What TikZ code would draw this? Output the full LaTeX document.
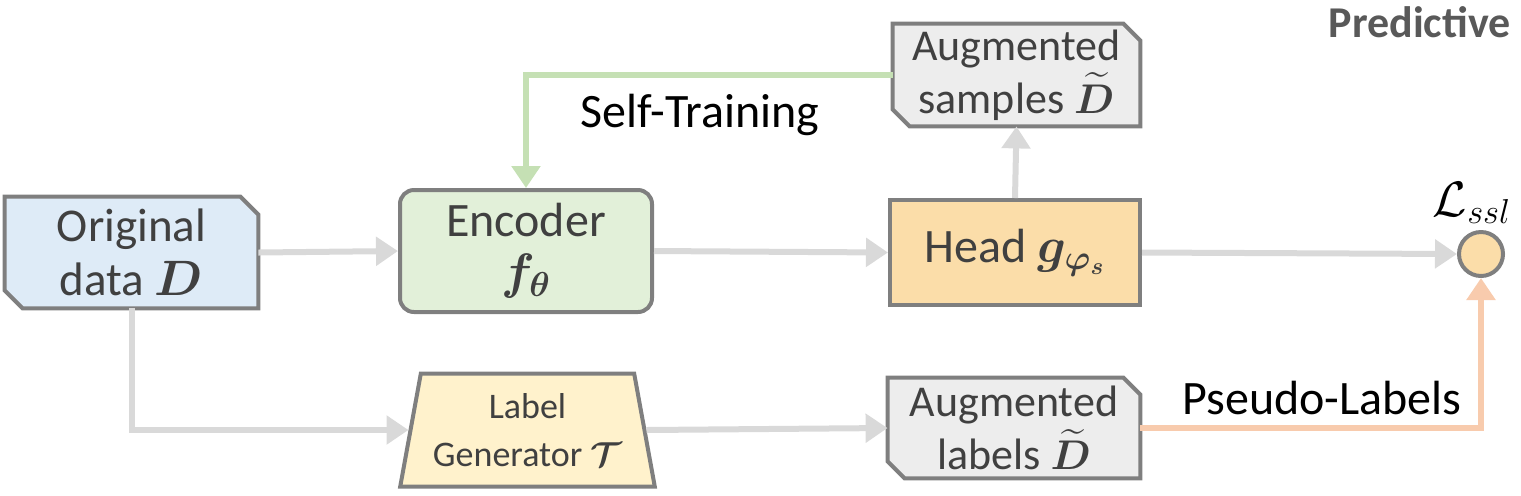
\documentclass[tikz,border=0pt]{standalone}
\usepackage{amsmath,bm}
\usepackage{fontspec}
\setmainfont{Carlito}
\usetikzlibrary{arrows.meta,shapes.geometric,backgrounds}
\definecolor{txtgray}{HTML}{404040}
\definecolor{bordergray}{HTML}{7F7F7F}
\definecolor{arrgray}{HTML}{D9D9D9}
\definecolor{origfill}{HTML}{DEEBF7}
\definecolor{encfill}{HTML}{E2F0D9}
\definecolor{headfill}{HTML}{FBDDA9}
\definecolor{lgfill}{HTML}{FFF2CC}
\definecolor{augfill}{HTML}{EDEDED}
\definecolor{greenline}{HTML}{C5E0B4}
\definecolor{orangeline}{HTML}{F8CBAD}
\definecolor{predgray}{HTML}{595959}
\tikzset{
  txt/.style={text=txtgray, font=\fontsize{23.5}{27}\selectfont, align=center, inner sep=0pt},
  boxline/.style={draw=bordergray, line width=2pt},
  arr/.style={draw=arrgray, line width=3pt, -{Triangle[length=11pt,width=14pt]}},
  lbl/.style={font=\fontsize{24}{29}\selectfont, text=black, inner sep=0pt},
}
\newcommand{\chamferbox}[3]{%
  \draw[boxline, fill=#3] (#1.north west) -- ([xshift=-#2]#1.north east) -- ([yshift=-#2]#1.north east)
    -- (#1.south east) -- ([xshift=#2]#1.south west) -- ([yshift=#2]#1.south west) -- cycle;}
\newcommand{\largemath}[1]{{\fontsize{26}{27}\selectfont$#1$}}
\begin{document}
\begin{tikzpicture}[x=0.5pt,y=-0.5pt]
\useasboundingbox (0,0) rectangle (1521,495);

% nodes
\node[txt, minimum width=126.5pt, minimum height=55.5pt] (orig) at (131.5,252.5) {Original\\data \largemath{\bm{D}}};
\node[txt, font=\fontsize{24}{26}\selectfont, boxline, fill=encfill, rounded corners=7pt, minimum width=126pt, minimum height=61pt] (enc) at (526,251) {Encoder\\\largemath{\bm{f_{\theta}}}};
\node[txt, boxline, fill=headfill, font=\fontsize{24}{29}\selectfont, minimum width=125pt, minimum height=52.5pt] (head) at (1015,252.5) {Head \largemath{\bm{g}_{\text{\fontsize{17}{17}\selectfont$\bm{\varphi_s}$}}}};
\node[txt, font=\fontsize{22}{26.5}\selectfont, minimum width=123.5pt, minimum height=51pt] (augs) at (1016.5,75) {Augmented\\samples \smash{$\widetilde{\bm{D}}$}};
\node[txt, font=\fontsize{22}{26.5}\selectfont, minimum width=126pt, minimum height=50pt] (augl) at (1014,428) {Augmented\\labels \smash{$\widetilde{\bm{D}}$}};
\node[txt, boxline, fill=lgfill, trapezium, trapezium left angle=76, trapezium right angle=76, trapezium stretches=true,
      font=\fontsize{18}{24}\selectfont, minimum width=127.5pt, minimum height=56.5pt] (lg) at (527.5,430) {Label\\Generator $\bm{\mathcal{T}}$};
\node[circle, boxline, fill=headfill, minimum size=22pt, inner sep=0pt] (circ) at (1481,254) {};

\node[inner sep=0pt, font=\fontsize{24}{28}\selectfont] (loss) at (1472,203) {$\mathcal{L}_{ssl}$};
\node[anchor=east, inner sep=0pt, text=predgray, font=\fontsize{22}{26}\selectfont\bfseries] (pred) at (1511,22) {Predictive};
\node[lbl] (st) at (700,115) {Self-Training};
\node[lbl] (pl) at (1322,398) {Pseudo-Labels};

\begin{scope}[on background layer]
\chamferbox{orig}{9pt}{origfill}
\chamferbox{augs}{8.5pt}{augfill}
\chamferbox{augl}{8.5pt}{augfill}
\end{scope}

% connectors
\draw[arr] (orig.east) -- (enc.west);
\draw[arr] (enc.east) -- (head.west);
\draw[arr] (head.east) -- (circ.west);
\draw[arr] (head.north) -- (augs.south);
\draw[arr, draw=greenline] (augs.west) -| (enc.north);
\draw[arr] (orig.south) |- (lg.west);
\draw[arr] (lg.east) -- (augl.west);
\draw[arr, draw=orangeline] (augl.east) -| (circ.south);
\end{tikzpicture}
\end{document}
